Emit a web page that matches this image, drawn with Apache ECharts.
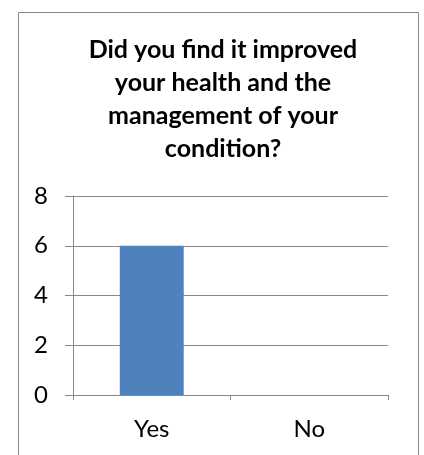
<!DOCTYPE html>
<html>
<head>
<meta charset="utf-8">
<script src="https://cdn.jsdelivr.net/npm/echarts@6/dist/echarts.min.js"></script>
<style>
  html, body { margin: 0; padding: 0; background: #fff; }
  #chart { width: 424px; height: 455px; }
</style>
</head>
<body>
<div id="chart"></div>
<script>
// data
const categories = ["Yes", "No"];
const values = [6, 0];
const titleText = "Did you find it improved\nyour health and the\nmanagement of your\ncondition?";

const fontFamily = "Lato, 'Liberation Sans', sans-serif";

const chart = echarts.init(document.getElementById("chart"));
chart.setOption({
  backgroundColor: "#fff",
  animation: false,
  // outer chart border
  graphic: [
    {
      type: "rect",
      shape: { x: 18.5, y: 12.5, width: 400, height: 460 },
      style: { fill: "none", stroke: "#888", lineWidth: 1 },
      silent: true,
    },
  ],
  title: {
    text: titleText,
    left: 218,
    top: 28,
    textAlign: "center",
    textStyle: {
      fontFamily: fontFamily,
      fontWeight: "bold",
      fontSize: 25,
      lineHeight: 33,
      color: "#000",
    },
  },
  grid: {
    left: 73,
    right: 36,
    top: 196,
    bottom: 60,
    containLabel: false,
  },
  xAxis: {
    type: "category",
    data: categories,
    axisLine: { lineStyle: { color: "#888", width: 1 } },
    axisTick: { show: true, length: 5, lineStyle: { color: "#888" } },
    axisLabel: {
      margin: 22,
      fontFamily: fontFamily,
      fontSize: 24,
      color: "#000",
    },
  },
  yAxis: {
    type: "value",
    min: 0,
    max: 8,
    interval: 2,
    axisLine: { show: true, lineStyle: { color: "#888", width: 1 } },
    axisTick: { show: true, length: 8, lineStyle: { color: "#888" } },
    splitLine: { show: true, lineStyle: { color: "#888", width: 1 } },
    axisLabel: {
      margin: 25,
      fontFamily: fontFamily,
      fontSize: 24,
      color: "#000",
    },
  },
  series: [
    {
      type: "bar",
      data: values,
      barWidth: "40.6%",
      itemStyle: { color: "#4f81bd" },
    },
  ],
});
</script>
</body>
</html>
